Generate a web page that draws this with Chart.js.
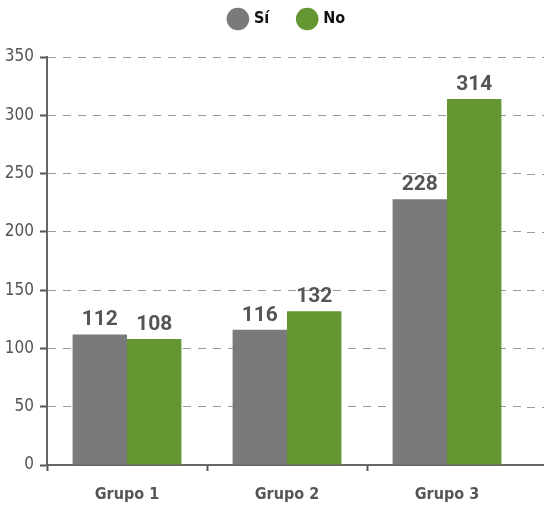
<!DOCTYPE html>
<html>
<head>
<meta charset="utf-8">
<script src="https://cdn.jsdelivr.net/npm/chart.js@4"></script>
<style>
  html, body { margin: 0; padding: 0; background: #fff; }
  #wrap { width: 544px; height: 507px; }
</style>
</head>
<body>
<div id="wrap"><canvas id="barChart"></canvas></div>
<script>
const groups = ['Grupo 1', 'Grupo 2', 'Grupo 3'];
const siValues = [112, 116, 228];
const noValues = [108, 132, 314];
const yTicks = [0, 50, 100, 150, 200, 250, 300, 350];

const narrow = "'DejaVu Sans Condensed', 'DejaVu Sans', sans-serif";

// value labels above each bar
const valueLabels = {
  id: 'valueLabels',
  afterDatasetsDraw(chart) {
    const ctx = chart.ctx;
    ctx.save();
    ctx.font = "bold 21px Roboto, sans-serif";
    ctx.fillStyle = '#555555';
    ctx.textAlign = 'center';
    ctx.textBaseline = 'alphabetic';
    chart.data.datasets.forEach((ds, i) => {
      chart.getDatasetMeta(i).data.forEach((bar, j) => {
        ctx.fillText(ds.data[j], bar.x, bar.y - 9);
      });
    });
    ctx.restore();
  }
};

// dashed grid continues to the right edge of the canvas
const gridTail = {
  id: 'gridTail',
  beforeDatasetsDraw(chart) {
    const ctx = chart.ctx;
    const y = chart.scales.y;
    const area = chart.chartArea;
    ctx.save();
    ctx.strokeStyle = '#9a9a9a';
    ctx.lineWidth = 1;
    ctx.setLineDash([8, 7]);
    ctx.lineDashOffset = -((area.right - area.left) % 15);
    y.ticks.forEach(t => {
      if (t.value === 0) return;
      const py = Math.round(y.getPixelForValue(t.value)) + 0.5;
      ctx.beginPath();
      ctx.moveTo(area.right, py);
      ctx.lineTo(chart.width, py);
      ctx.stroke();
    });
    ctx.setLineDash([]);
    ctx.strokeStyle = '#666666';
    ctx.lineWidth = 2;
    ctx.beginPath();
    ctx.moveTo(area.right, y.getPixelForValue(0));
    ctx.lineTo(chart.width, y.getPixelForValue(0));
    ctx.stroke();
    ctx.restore();
  }
};

// extra room under the legend, and legend centred over the plot
const legendSpace = {
  id: 'legendSpace',
  beforeInit(chart) {
    const fit = chart.legend.fit;
    chart.legend.fit = function () {
      fit.bind(chart.legend)();
      this.height += 20;
    };
  },
  afterLayout(chart) {
    chart.legend.left = 48;
  }
};

const barCtx = document.getElementById('barChart').getContext('2d');
const barChart = new Chart(barCtx, {
  type: 'bar',
  data: {
    labels: groups,
    datasets: [
      { label: 'Sí', data: siValues, backgroundColor: '#7a7a7a' },
      { label: 'No', data: noValues, backgroundColor: '#659632' }
    ]
  },
  options: {
    responsive: true,
    maintainAspectRatio: false,
    animation: false,
    layout: { padding: { left: 0, right: 17, top: -19, bottom: 0 } },
    datasets: {
      bar: { categoryPercentage: 0.68, barPercentage: 1.0 }
    },
    plugins: {
      legend: {
        position: 'top',
        labels: {
          usePointStyle: true,
          pointStyle: 'circle',
          boxWidth: 16,
          boxHeight: 16,
          padding: 30,
          color: '#111111',
          font: { family: narrow, style: 'normal condensed', size: 16, weight: 'bold' }
        }
      },
      tooltip: { enabled: false }
    },
    scales: {
      x: {
        afterFit(scale) { scale.height = 42; },
        grid: {
          display: true,
          drawOnChartArea: false,
          drawTicks: true,
          tickLength: 6,
          tickColor: (c) => c.type === 'tick' ? '#555555' : 'rgba(0,0,0,0)',
          tickWidth: 2,
          offset: true
        },
        border: { display: true, color: '#666666', width: 2 },
        ticks: {
          color: '#555555',
          padding: 14,
          font: { family: narrow, style: 'normal condensed', size: 16, weight: 'bold' }
        }
      },
      y: {
        min: 0,
        max: 350,
        afterBuildTicks(scale) {
          scale.ticks = yTicks.map(v => ({ value: v }));
        },
        afterFit(scale) { scale.width = 47; },
        grid: {
          color: '#9a9a9a',
          lineWidth: 1,
          tickBorderDash: [],
          tickColor: '#555555',
          tickWidth: 2,
          tickLength: 7
        },
        border: { display: true, color: '#666666', width: 2, dash: [8, 7] },
        ticks: {
          color: '#555555',
          padding: 6,
          font: { family: narrow, style: 'normal condensed', size: 17 }
        }
      }
    }
  },
  plugins: [gridTail, valueLabels, legendSpace]
});
</script>
</body>
</html>
